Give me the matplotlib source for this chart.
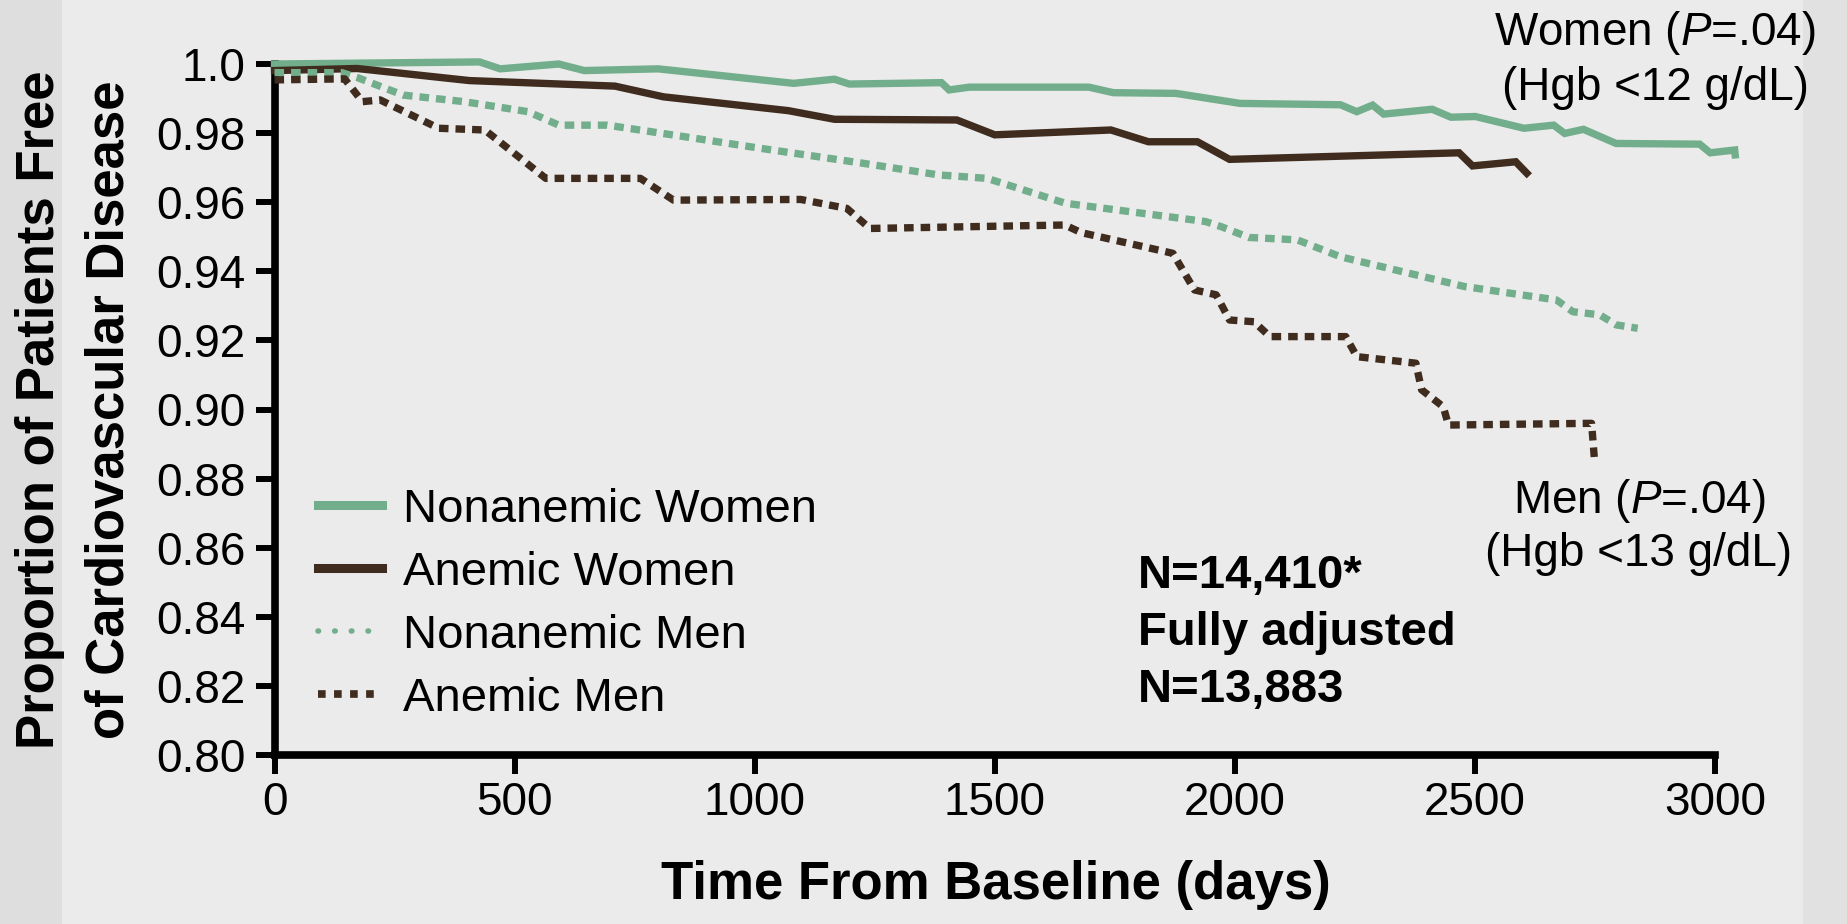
import matplotlib
matplotlib.use("Agg")
import matplotlib.pyplot as plt
from matplotlib.lines import Line2D
from matplotlib.patches import Rectangle

plt.rcParams['font.family'] = ['Liberation Sans', 'DejaVu Sans']
plt.rcParams['mathtext.fontset'] = 'custom'
plt.rcParams['mathtext.rm'] = 'Liberation Sans'
plt.rcParams['mathtext.it'] = 'Liberation Sans:italic'

GREEN = '#72AE8C'
BROWN = '#402C1E'

# Kaplan-Meier style survival estimates (days from baseline, proportion free of CVD)
days_nonanemic_women = [0, 427, 470, 592, 645, 799, 1081, 1166, 1197, 1389, 1405, 1447,
                        1696, 1747, 1877, 2011, 2220, 2254, 2287, 2310, 2411, 2450,
                        2501, 2602, 2664, 2687, 2726, 2794, 2968, 2990, 3041, 3042]
surv_nonanemic_women = [1.000, 1.0006, 0.9986, 1.000, 0.9981, 0.9986, 0.9944, 0.9956,
                        0.9942, 0.9946, 0.9925, 0.9933, 0.9933, 0.9917, 0.9915, 0.9886,
                        0.9882, 0.9862, 0.9881, 0.9855, 0.9869, 0.9846, 0.9848, 0.9814,
                        0.9823, 0.9799, 0.9811, 0.9770, 0.9768, 0.9743, 0.9751, 0.9737]

days_anemic_women = [0, 172, 406, 709, 810, 1070, 1166, 1421, 1500, 1742, 1820, 1922,
                     1989, 2467, 2495, 2585, 2608]
surv_anemic_women = [0.9981, 0.9987, 0.9952, 0.9936, 0.9905, 0.9865, 0.9840, 0.9838,
                     0.9795, 0.9809, 0.9775, 0.9775, 0.9724, 0.9743, 0.9705, 0.9717,
                     0.9684]

days_nonanemic_men = [0, 140, 172, 268, 395, 528, 592, 693, 852, 1012, 1224, 1383, 1484,
                      1647, 1939, 1972, 2029, 2130, 2220, 2478, 2670, 2704, 2760, 2794,
                      2839]
surv_nonanemic_men = [0.9975, 0.9975, 0.9961, 0.9910, 0.9891, 0.9862, 0.9823, 0.9823,
                      0.9790, 0.9756, 0.9713, 0.9679, 0.9669, 0.9597, 0.9544, 0.9529,
                      0.9498, 0.9491, 0.9442, 0.9356, 0.9317, 0.9283, 0.9274, 0.9245,
                      0.9235]

days_anemic_men = [0, 146, 183, 220, 342, 438, 565, 762, 831, 1096, 1192, 1240, 1646,
                   1680, 1871, 1916, 1961, 1989, 2040, 2073, 2231, 2254, 2377, 2389,
                   2434, 2445, 2743, 2749]
surv_anemic_men = [0.9954, 0.9957, 0.9891, 0.9896, 0.9814, 0.9809, 0.9669, 0.9669,
                   0.9606, 0.9608, 0.9582, 0.9524, 0.9534, 0.9512, 0.9452, 0.9346,
                   0.9332, 0.9259, 0.9254, 0.9211, 0.9211, 0.9153, 0.9134, 0.9057,
                   0.9008, 0.8955, 0.8960, 0.8854]

series_labels = ['Nonanemic Women', 'Anemic Women', 'Nonanemic Men', 'Anemic Men']

x_ticks = [0, 500, 1000, 1500, 2000, 2500, 3000]
y_ticks = [0.80, 0.82, 0.84, 0.86, 0.88, 0.90, 0.92, 0.94, 0.96, 0.98, 1.0]
y_tick_labels = ['0.80', '0.82', '0.84', '0.86', '0.88', '0.90', '0.92', '0.94',
                 '0.96', '0.98', '1.0']

W, H = 1847, 924
fig = plt.figure(figsize=(W / 100, H / 100), dpi=100)
fig.patch.set_facecolor('#EBEBEB')

# darker side margins of the slide
fig.patches.append(Rectangle((0, 0), 62 / W, 1, transform=fig.transFigure,
                             facecolor='#DEDEDE', edgecolor='none', zorder=0))
fig.patches.append(Rectangle((1803 / W, 0), 1 - 1803 / W, 1, transform=fig.transFigure,
                             facecolor='#E1E1E1', edgecolor='none', zorder=0))

x0, x1, y0, y1 = 274.5, 1715, 64, 755
ax = fig.add_axes([x0 / W, 1 - y1 / H, (x1 - x0) / W, (y1 - y0) / H])
ax.set_facecolor('none')

lw = 5.3
dots = (0, (1.3, 0.95))
ax.plot(days_nonanemic_women, surv_nonanemic_women, color=GREEN, lw=lw,
        solid_joinstyle='miter', clip_on=False, zorder=3)
ax.plot(days_anemic_women, surv_anemic_women, color=BROWN, lw=lw,
        solid_joinstyle='miter', clip_on=False, zorder=3)
ax.plot(days_nonanemic_men, surv_nonanemic_men, color=GREEN, lw=lw, ls=dots,
        dash_capstyle='butt', clip_on=False, zorder=3)
ax.plot(days_anemic_men, surv_anemic_men, color=BROWN, lw=lw, ls=dots,
        dash_capstyle='butt', clip_on=False, zorder=3)

ax.set_xlim(0, 3000)
ax.set_ylim(0.80, 1.0)
ax.set_xticks(x_ticks)
ax.set_xticklabels([str(t) for t in x_ticks])
ax.set_yticks(y_ticks)
ax.set_yticklabels(y_tick_labels)

for side in ('top', 'right'):
    ax.spines[side].set_visible(False)
for side in ('left', 'bottom'):
    ax.spines[side].set_linewidth(5.5)
    ax.spines[side].set_color('black')
    ax.spines[side].set_capstyle('projecting')
ax.tick_params(axis='both', direction='out', length=14, width=4.3, color='black',
               labelsize=33, labelcolor='black')
ax.tick_params(axis='x', pad=5)
ax.tick_params(axis='y', pad=7)

# legend
handles = [
    Line2D([], [], color=GREEN, lw=6.5),
    Line2D([], [], color=BROWN, lw=6.5),
    Line2D([], [], color=GREEN, lw=4, ls=(0, (0.1, 2.9)), dash_capstyle='round'),
    Line2D([], [], color=BROWN, lw=5.5, ls=(0, (1.0, 1.1)), dash_capstyle='butt'),
]
leg = ax.legend(handles, series_labels, loc='upper left',
                bbox_to_anchor=((318 - x0) / (x1 - x0), (y1 - 488) / (y1 - y0)),
                frameon=False, fontsize=34, handlelength=1.35, handletextpad=0.45,
                labelspacing=0.40, borderpad=0, borderaxespad=0)

def ftext(x, y, s, **kw):
    fig.text(x / W, 1 - y / H, s, **kw)

# axis titles
ftext(40, 410, 'Proportion of Patients Free', rotation=90, ha='center', va='center',
      fontsize=38, fontweight='bold')
ftext(110, 410, 'of Cardiovascular Disease', rotation=90, ha='center', va='center',
      fontsize=38, fontweight='bold')
ftext(996, 885, 'Time From Baseline (days)', ha='center', va='center',
      fontsize=38, fontweight='bold')

# group annotations
ftext(1655, 33, r'Women ($\mathit{P}$=.04)', ha='center', va='center', fontsize=33)
ftext(1655, 88, '(Hgb <12 g/dL)', ha='center', va='center', fontsize=33)
ftext(1639, 501, r'Men ($\mathit{P}$=.04)', ha='center', va='center', fontsize=33)
ftext(1639, 554, '(Hgb <13 g/dL)', ha='center', va='center', fontsize=33)

ftext(1138, 576, 'N=14,410*', ha='left', va='center', fontsize=34, fontweight='bold')
ftext(1138, 633, 'Fully adjusted', ha='left', va='center', fontsize=34, fontweight='bold')
ftext(1138, 690, 'N=13,883', ha='left', va='center', fontsize=34, fontweight='bold')

fig.savefig('out.png', dpi=100, facecolor=fig.get_facecolor())
